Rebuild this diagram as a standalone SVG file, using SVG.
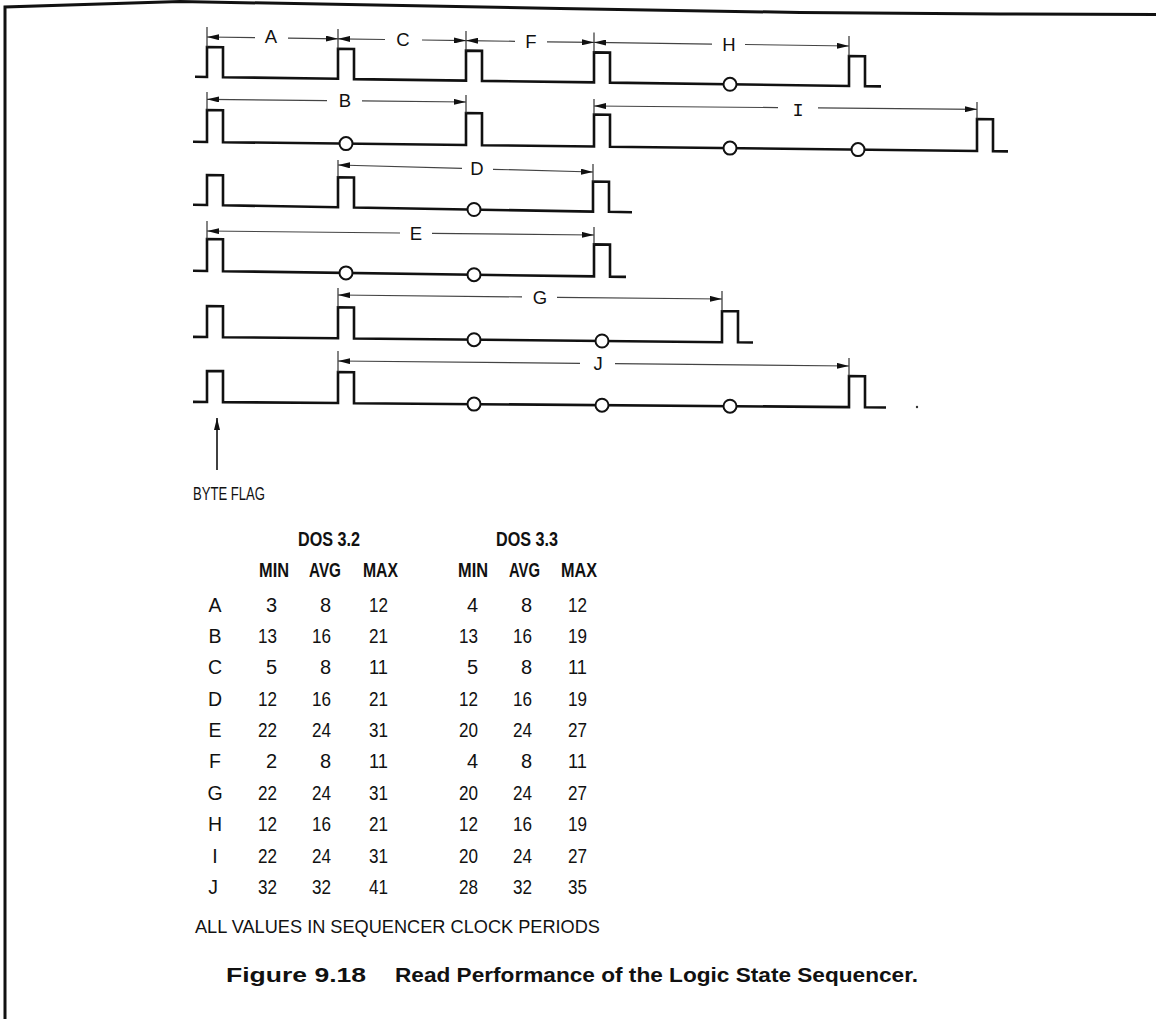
<svg xmlns="http://www.w3.org/2000/svg" width="1156" height="1019" viewBox="0 0 1156 1019">
<defs>
<marker id="ah" viewBox="0 0 12 6" refX="12" refY="3" markerWidth="12" markerHeight="6" markerUnits="userSpaceOnUse" orient="auto-start-reverse">
<path d="M0,0 L12,3 L0,6 z" fill="#111"/>
</marker>
<style>
.w{fill:none;stroke:#111;stroke-width:2.6;stroke-linejoin:miter}
.c{fill:#fff;stroke:#111;stroke-width:2}
.d{fill:none;stroke:#444;stroke-width:1.2}
.k{fill:none;stroke:#333;stroke-width:1.2}
.b{fill:none;stroke:#111;stroke-width:3}
text{font-family:"Liberation Sans",Arial,sans-serif;fill:#111}
.lbl{font-size:18.5px;text-anchor:middle}
.num{font-size:20px;text-anchor:end}
.let{font-size:19.5px;text-anchor:middle}
.hd{font-size:19.5px;font-weight:bold}
.cap{font-size:19.5px;font-weight:bold}
.txt{font-size:18.5px}
</style>
</defs>
<rect width="1156" height="1019" fill="#fff"/>
<g id="border">
<path class="b" d="M5,1019 L5,7 L180,1.5 L560,8.5 L800,12.5 L1000,14 L1156,14.5"/>
</g>
<g id="waveforms">
<g id="row1">
<path class="w" d="M195,76.8 L207,77 L207,47 L223,47.2 L223,77.2 L338,78.8 L338,48.8 L354,49 L354,79.1 L466,80.6 L466,50.6 L482,50.9 L482,80.9 L594,82.4 L594,52.4 L610,52.6 L610,82.6 L849,86 L849,56 L865,56.2 L865,86.2 L881,86.4"/>
<circle class="c" cx="730" cy="84.3" r="6.5"/>
</g>
<g id="row2">
<path class="w" d="M193,141.8 L207,142 L207,110 L223,110.2 L223,142.2 L466,145 L466,113 L482,113.2 L482,145.2 L594,146.5 L594,114.5 L610,114.7 L610,146.7 L977,151 L977,119 L993,119.2 L993,151.2 L1008,151.4"/>
<circle class="c" cx="346" cy="143.6" r="6.5"/>
<circle class="c" cx="730" cy="148.1" r="6.5"/>
<circle class="c" cx="858" cy="149.6" r="6.5"/>
</g>
<g id="row3">
<path class="w" d="M193,204.8 L207,205 L207,175 L223,175.3 L223,205.3 L338,207.2 L338,177.2 L354,177.5 L354,207.5 L593,211.6 L593,181.6 L609,181.8 L609,211.8 L632,212.2"/>
<circle class="c" cx="474" cy="209.5" r="6.5"/>
</g>
<g id="row4">
<path class="w" d="M193,270.8 L207,271 L207,239 L223,239.2 L223,271.2 L594,276.4 L594,244.4 L610,244.6 L610,276.6 L626,276.9"/>
<circle class="c" cx="346" cy="272.9" r="6.5"/>
<circle class="c" cx="474" cy="274.7" r="6.5"/>
</g>
<g id="row5">
<path class="w" d="M193,336.9 L207,337 L207,306 L223,306.2 L223,337.2 L338,338.3 L338,307.3 L354,307.5 L354,338.5 L722,342.2 L722,311.2 L738,311.3 L738,342.3 L753,342.5"/>
<circle class="c" cx="474" cy="339.7" r="6.5"/>
<circle class="c" cx="602" cy="341" r="6.5"/>
</g>
<g id="row6">
<path class="w" d="M193,401.9 L207,402 L207,371 L223,371.1 L223,402.1 L338,403 L338,372 L354,372.2 L354,403.2 L849,407.1 L849,376 L865,376.2 L865,407.3 L886,407.5"/>
<circle class="c" cx="474" cy="404.1" r="6.5"/>
<circle class="c" cx="602" cy="405.2" r="6.5"/>
<circle class="c" cx="730" cy="406.2" r="6.5"/>
</g>
<circle cx="917" cy="407" r="1.2" fill="#333"/>
</g>
<g id="connectors">
<g id="ticks">
<path class="k" d="M207,27 V47 M338,29 V48.8 M466,31 V50.6 M594,32.5 V52.4 M849,36 V56"/>
<path class="k" d="M207,92 V110 M466,95 V113 M594,99 V114.5 M977,102 V119"/>
<path class="k" d="M338,160 V177.2 M593,164 V181.6"/>
<path class="k" d="M207,221 V239 M594,227 V244.4"/>
<path class="k" d="M338,288 V307.3 M722,291 V311.2"/>
<path class="k" d="M338,351 V372 M849,358 V376"/>
</g>
<g id="dim-A"><path class="d" marker-start="url(#ah)" d="M207,37 L255,37.7"/><path class="d" marker-end="url(#ah)" d="M288,38.1 L338,38.8"/></g>
<g id="dim-C"><path class="d" marker-start="url(#ah)" d="M338,38.8 L385,39.5"/><path class="d" marker-end="url(#ah)" d="M422,40 L466,40.6"/></g>
<g id="dim-F"><path class="d" marker-start="url(#ah)" d="M466,40.6 L515,41.3"/><path class="d" marker-end="url(#ah)" d="M547,41.8 L594,42.4"/></g>
<g id="dim-H"><path class="d" marker-start="url(#ah)" d="M594,42.4 L712,44.1"/><path class="d" marker-end="url(#ah)" d="M745,44.5 L849,46"/></g>
<g id="dim-B"><path class="d" marker-start="url(#ah)" d="M207,99.3 L327,100.6"/><path class="d" marker-end="url(#ah)" d="M362,100.9 L466,102"/></g>
<g id="dim-I"><path class="d" marker-start="url(#ah)" d="M594,106 L778,107.6"/><path class="d" marker-end="url(#ah)" d="M818,107.9 L977,109.3"/></g>
<g id="dim-D"><path class="d" marker-start="url(#ah)" d="M338,165 L462,168.4"/><path class="d" marker-end="url(#ah)" d="M493,169.3 L593,172"/></g>
<g id="dim-E"><path class="d" marker-start="url(#ah)" d="M207,231 L400,233"/><path class="d" marker-end="url(#ah)" d="M432,233.3 L594,235"/></g>
<g id="dim-G"><path class="d" marker-start="url(#ah)" d="M338,295 L522,296.9"/><path class="d" marker-end="url(#ah)" d="M557,297.3 L722,299"/></g>
<g id="dim-J"><path class="d" marker-start="url(#ah)" d="M338,361 L580,363.4"/><path class="d" marker-end="url(#ah)" d="M615,363.7 L849,366"/></g>
<g id="byte-flag-arrow"><path class="k" style="stroke:#111;stroke-width:1.6" marker-end="url(#ah)" d="M217,470 L217,418"/></g>
</g>
<g id="dim-labels">
<text class="lbl" x="271" y="43">A</text>
<text class="lbl" x="403" y="46">C</text>
<text class="lbl" x="531" y="48">F</text>
<text class="lbl" x="729" y="51">H</text>
<text class="lbl" x="345" y="107">B</text>
<text class="lbl" x="798" y="116" style="font-family:'Liberation Mono',monospace">I</text>
<text class="lbl" x="477" y="175">D</text>
<text class="lbl" x="416" y="240">E</text>
<text class="lbl" x="540" y="304">G</text>
<text class="lbl" x="598" y="370">J</text>
</g>
<g id="byte-flag">
<text class="txt" x="193" y="500" textLength="72" lengthAdjust="spacingAndGlyphs">BYTE FLAG</text>
</g>
<g id="table">
<text class="hd" x="298" y="546" textLength="62" lengthAdjust="spacingAndGlyphs">DOS 3.2</text>
<text class="hd" x="496" y="546" textLength="62" lengthAdjust="spacingAndGlyphs">DOS 3.3</text>
<text class="hd" x="259" y="577" textLength="30" lengthAdjust="spacingAndGlyphs">MIN</text>
<text class="hd" x="309" y="577" textLength="32" lengthAdjust="spacingAndGlyphs">AVG</text>
<text class="hd" x="363" y="577" textLength="35" lengthAdjust="spacingAndGlyphs">MAX</text>
<text class="hd" x="458" y="577" textLength="30" lengthAdjust="spacingAndGlyphs">MIN</text>
<text class="hd" x="509" y="577" textLength="31" lengthAdjust="spacingAndGlyphs">AVG</text>
<text class="hd" x="561" y="577" textLength="36" lengthAdjust="spacingAndGlyphs">MAX</text>
<g id="row-A"><text class="let" x="215" y="612">A</text><text class="num" x="277" y="612">3</text><text class="num" x="331" y="612">8</text><text class="num" x="388" y="612" textLength="19" lengthAdjust="spacingAndGlyphs">12</text><text class="num" x="478" y="612">4</text><text class="num" x="532" y="612">8</text><text class="num" x="587" y="612" textLength="19" lengthAdjust="spacingAndGlyphs">12</text></g>
<g id="row-B"><text class="let" x="215" y="643">B</text><text class="num" x="277" y="643" textLength="19" lengthAdjust="spacingAndGlyphs">13</text><text class="num" x="331" y="643" textLength="19" lengthAdjust="spacingAndGlyphs">16</text><text class="num" x="388" y="643" textLength="19" lengthAdjust="spacingAndGlyphs">21</text><text class="num" x="478" y="643" textLength="19" lengthAdjust="spacingAndGlyphs">13</text><text class="num" x="532" y="643" textLength="19" lengthAdjust="spacingAndGlyphs">16</text><text class="num" x="587" y="643" textLength="19" lengthAdjust="spacingAndGlyphs">19</text></g>
<g id="row-C"><text class="let" x="215" y="674">C</text><text class="num" x="277" y="674">5</text><text class="num" x="331" y="674">8</text><text class="num" x="388" y="674" textLength="19" lengthAdjust="spacingAndGlyphs">11</text><text class="num" x="478" y="674">5</text><text class="num" x="532" y="674">8</text><text class="num" x="587" y="674" textLength="19" lengthAdjust="spacingAndGlyphs">11</text></g>
<g id="row-D"><text class="let" x="215" y="705.5">D</text><text class="num" x="277" y="705.5" textLength="19" lengthAdjust="spacingAndGlyphs">12</text><text class="num" x="331" y="705.5" textLength="19" lengthAdjust="spacingAndGlyphs">16</text><text class="num" x="388" y="705.5" textLength="19" lengthAdjust="spacingAndGlyphs">21</text><text class="num" x="478" y="705.5" textLength="19" lengthAdjust="spacingAndGlyphs">12</text><text class="num" x="532" y="705.5" textLength="19" lengthAdjust="spacingAndGlyphs">16</text><text class="num" x="587" y="705.5" textLength="19" lengthAdjust="spacingAndGlyphs">19</text></g>
<g id="row-E"><text class="let" x="215" y="737">E</text><text class="num" x="277" y="737" textLength="19" lengthAdjust="spacingAndGlyphs">22</text><text class="num" x="331" y="737" textLength="19" lengthAdjust="spacingAndGlyphs">24</text><text class="num" x="388" y="737" textLength="19" lengthAdjust="spacingAndGlyphs">31</text><text class="num" x="478" y="737" textLength="19" lengthAdjust="spacingAndGlyphs">20</text><text class="num" x="532" y="737" textLength="19" lengthAdjust="spacingAndGlyphs">24</text><text class="num" x="587" y="737" textLength="19" lengthAdjust="spacingAndGlyphs">27</text></g>
<g id="row-F"><text class="let" x="215" y="768">F</text><text class="num" x="277" y="768">2</text><text class="num" x="331" y="768">8</text><text class="num" x="388" y="768" textLength="19" lengthAdjust="spacingAndGlyphs">11</text><text class="num" x="478" y="768">4</text><text class="num" x="532" y="768">8</text><text class="num" x="587" y="768" textLength="19" lengthAdjust="spacingAndGlyphs">11</text></g>
<g id="row-G"><text class="let" x="215" y="799.5">G</text><text class="num" x="277" y="799.5" textLength="19" lengthAdjust="spacingAndGlyphs">22</text><text class="num" x="331" y="799.5" textLength="19" lengthAdjust="spacingAndGlyphs">24</text><text class="num" x="388" y="799.5" textLength="19" lengthAdjust="spacingAndGlyphs">31</text><text class="num" x="478" y="799.5" textLength="19" lengthAdjust="spacingAndGlyphs">20</text><text class="num" x="532" y="799.5" textLength="19" lengthAdjust="spacingAndGlyphs">24</text><text class="num" x="587" y="799.5" textLength="19" lengthAdjust="spacingAndGlyphs">27</text></g>
<g id="row-H"><text class="let" x="215" y="831">H</text><text class="num" x="277" y="831" textLength="19" lengthAdjust="spacingAndGlyphs">12</text><text class="num" x="331" y="831" textLength="19" lengthAdjust="spacingAndGlyphs">16</text><text class="num" x="388" y="831" textLength="19" lengthAdjust="spacingAndGlyphs">21</text><text class="num" x="478" y="831" textLength="19" lengthAdjust="spacingAndGlyphs">12</text><text class="num" x="532" y="831" textLength="19" lengthAdjust="spacingAndGlyphs">16</text><text class="num" x="587" y="831" textLength="19" lengthAdjust="spacingAndGlyphs">19</text></g>
<g id="row-I"><text class="let" x="215" y="862.5">I</text><text class="num" x="277" y="862.5" textLength="19" lengthAdjust="spacingAndGlyphs">22</text><text class="num" x="331" y="862.5" textLength="19" lengthAdjust="spacingAndGlyphs">24</text><text class="num" x="388" y="862.5" textLength="19" lengthAdjust="spacingAndGlyphs">31</text><text class="num" x="478" y="862.5" textLength="19" lengthAdjust="spacingAndGlyphs">20</text><text class="num" x="532" y="862.5" textLength="19" lengthAdjust="spacingAndGlyphs">24</text><text class="num" x="587" y="862.5" textLength="19" lengthAdjust="spacingAndGlyphs">27</text></g>
<g id="row-J"><text class="let" x="213" y="894">J</text><text class="num" x="277" y="894" textLength="19" lengthAdjust="spacingAndGlyphs">32</text><text class="num" x="331" y="894" textLength="19" lengthAdjust="spacingAndGlyphs">32</text><text class="num" x="388" y="894" textLength="19" lengthAdjust="spacingAndGlyphs">41</text><text class="num" x="478" y="894" textLength="19" lengthAdjust="spacingAndGlyphs">28</text><text class="num" x="532" y="894" textLength="19" lengthAdjust="spacingAndGlyphs">32</text><text class="num" x="587" y="894" textLength="19" lengthAdjust="spacingAndGlyphs">35</text></g>
<text class="txt" x="195" y="933" textLength="405" lengthAdjust="spacingAndGlyphs">ALL VALUES IN SEQUENCER CLOCK PERIODS</text>
</g>
<g id="caption">
<text class="cap" x="226" y="982" textLength="140" lengthAdjust="spacingAndGlyphs">Figure 9.18</text>
<text class="cap" x="395" y="982" textLength="523" lengthAdjust="spacingAndGlyphs">Read Performance of the Logic State Sequencer.</text>
</g>
</svg>
